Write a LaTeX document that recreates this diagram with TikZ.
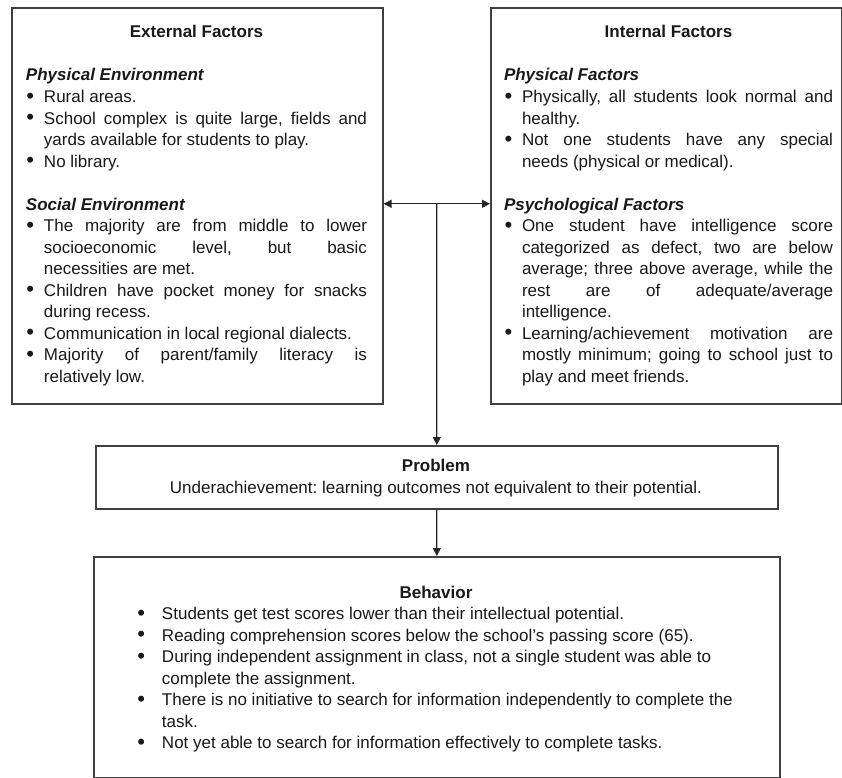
\documentclass[tikz,border=0pt]{standalone}
\usepackage{fontspec}
\usepackage{graphicx}
\setmainfont{Liberation Sans}
\usetikzlibrary{arrows.meta,calc}
\newdimen\xind
\newcommand\xTitle[1]{\hbox to\hsize{\hfil\bfseries #1\hfil}}
\newcommand\xHead[1]{\hbox{\bfseries\itshape #1}}
\newcommand\xBul{\hbox to\xind{\hskip0.5bp\raisebox{-0.6bp}{\scalebox{1.3}{\textbullet}}\hfil}}
\newcommand\xBJ[1]{\hbox to\hsize{\xBul #1}}
\newcommand\xBR[1]{\hbox to\hsize{\xBul #1\hfil}}
\newcommand\xCJ[1]{\hbox to\hsize{\hskip\xind\relax #1}}
\newcommand\xCR[1]{\hbox to\hsize{\hskip\xind\relax #1\hfil}}
\newcommand\xBlank{\hbox{}}
\newcommand\xLine[1]{\hbox to\hsize{\hfil #1\hfil}}
\begin{document}
\begin{tikzpicture}[x=1bp,y=-1bp,
  box/.style={draw=black!75, line width=1.6bp, inner sep=0pt, anchor=north west},
  txt/.style={inner sep=0pt, anchor=base, text=black!90,
    font={\fontsize{17bp}{21.5bp}\selectfont\frenchspacing\lineskiplimit=-100bp\hbadness=10000\hfuzz=30bp}},
  arr/.style={draw=black!85, line width=1.3bp, -{Triangle[length=8bp,width=8bp]}},
  arrb/.style={draw=black!85, line width=1.3bp, {Triangle[length=8bp,width=8bp]}-{Triangle[length=8bp,width=8bp]}}]
\useasboundingbox (0,0) rectangle (842,778);
\fill[white] (0,0) rectangle (842,778);
% boxes
\node[box, minimum width=371bp, minimum height=396bp] (ext) at (11,7) {};
\node[box, minimum width=351bp, minimum height=396bp] (int) at (490,7) {};
\node[box, minimum width=682bp, minimum height=63bp] (prob) at (95,445) {};
\node[box, minimum width=686bp, minimum height=221bp] (beh) at (93,556) {};
% texts
\node[txt] (extT) at (196.5,38) {\vtop{\hsize=341bp\xind=18bp\relax
  \xTitle{External Factors}
  \xBlank
  \xHead{Physical Environment}
  \xBR{Rural areas.}
  \xBJ{School complex is quite large, fields and}
  \xCR{yards available for students to play.}
  \xBR{No library.}
  \xBlank
  \xHead{Social Environment}
  \xBJ{The majority are from middle to lower}
  \xCJ{socioeconomic level, but basic}
  \xCR{necessities are met.}
  \xBJ{Children have pocket money for snacks}
  \xCR{during recess.}
  \xBR{Communication in local regional dialects.}
  \xBJ{Majority of parent/family literacy is}
  \xCR{relatively low.}}};
\node[txt] (intT) at (668.5,38) {\vtop{\hsize=329bp\xind=18bp\relax
  \xTitle{Internal Factors}
  \xBlank
  \xHead{Physical Factors}
  \xBJ{Physically, all students look normal and}
  \xCR{healthy.}
  \xBJ{Not one students have any special}
  \xCR{needs (physical or medical).}
  \xBlank
  \xHead{Psychological Factors}
  \xBJ{One student have intelligence score}
  \xCJ{categorized as defect, two are below}
  \xCJ{average; three above average, while the}
  \xCJ{rest are of adequate/average}
  \xCR{intelligence.}
  \xBJ{Learning/achievement motivation are}
  \xCJ{mostly minimum; going to school just to}
  \xCR{play and meet friends.}}};
\node[txt] (probT) at (436,471.5) {\vtop{\hsize=640bp\relax
  \xTitle{Problem}
  \xLine{Underachievement: learning outcomes not equivalent to their potential.}}};
\node[txt] (behT) at (436,598) {\vtop{\hsize=598bp\xind=25bp\relax
  \xTitle{Behavior}
  \xBR{Students get test scores lower than their intellectual potential.}
  \xBR{Reading comprehension scores below the school's passing score (65).}
  \xBR{During independent assignment in class, not a single student was able to}
  \xCR{complete the assignment.}
  \xBR{There is no initiative to search for information independently to complete the}
  \xCR{task.}
  \xBR{Not yet able to search for information effectively to complete tasks.}}};
% connectors
\coordinate (j) at ($(ext.east)!0.5!(int.west)+(0,-2)$);
\draw[arrb] (j -| ext.east) -- (j -| int.west);
\draw[arr] (j) -- (prob.north);
\draw[arr] (prob.south) -- (beh.north);
\end{tikzpicture}
\end{document}
